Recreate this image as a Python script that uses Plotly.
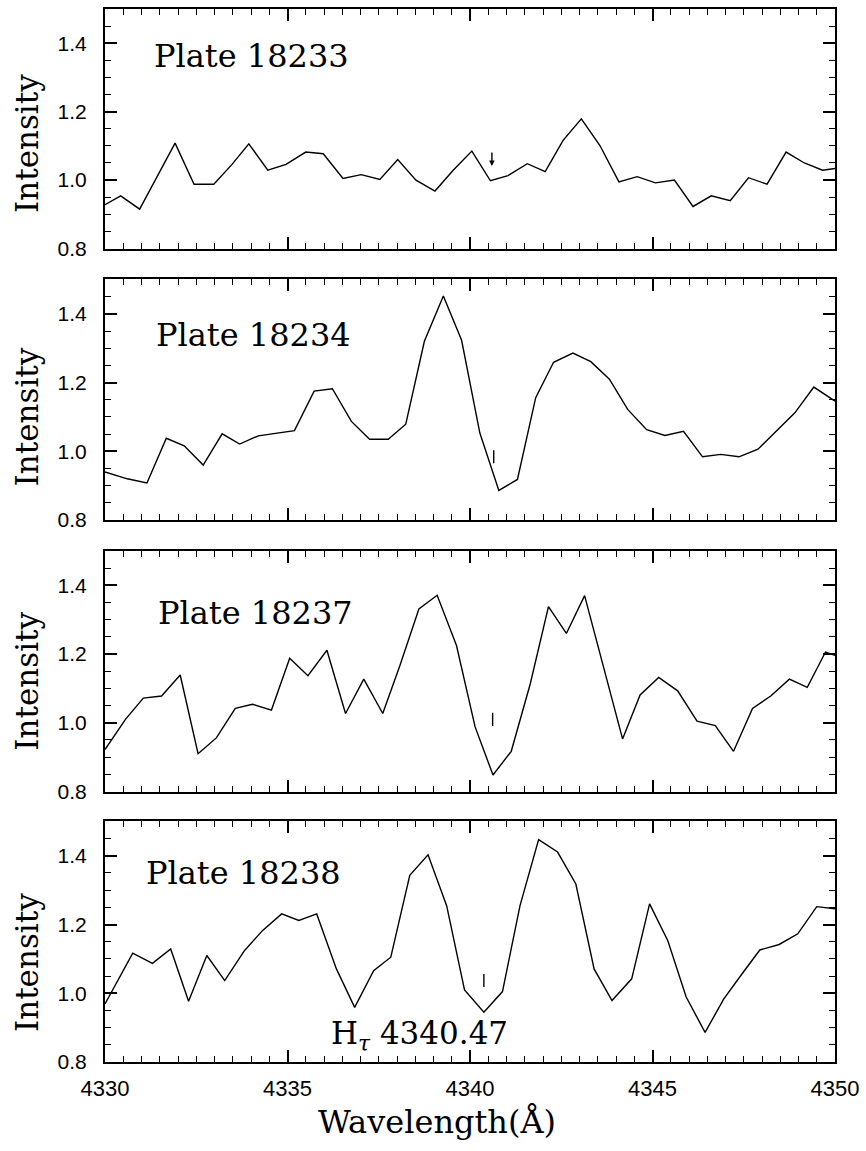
import plotly.graph_objects as go

# ---------------- data ----------------
plates = ["Plate 18233", "Plate 18234", "Plate 18237", "Plate 18238"]

wl1 = [4330.0, 4330.43, 4330.95, 4331.37, 4331.92, 4332.44, 4332.98, 4333.48, 4333.94, 4334.46,
       4334.96, 4335.50, 4335.98, 4336.52, 4337.02, 4337.53, 4338.02, 4338.52, 4339.04, 4339.54,
       4340.05, 4340.56, 4341.04, 4341.57, 4342.06, 4342.55, 4343.05, 4343.56, 4344.08, 4344.58,
       4345.08, 4345.60, 4346.11, 4346.61, 4347.13, 4347.63, 4348.14, 4348.66, 4349.16, 4349.66, 4350.0]
int1 = [0.928, 0.954, 0.915, 1.0, 1.108, 0.988, 0.988, 1.046, 1.106, 1.029,
        1.046, 1.082, 1.077, 1.005, 1.016, 1.002, 1.06, 1.0, 0.968, 1.029,
        1.085, 0.998, 1.013, 1.048, 1.025, 1.116, 1.179, 1.101, 0.995, 1.01,
        0.992, 1.0, 0.923, 0.954, 0.94, 1.007, 0.988, 1.082, 1.05, 1.029, 1.034]

wl2 = [4330.0, 4330.61, 4331.15, 4331.68, 4332.17, 4332.69, 4333.21, 4333.69, 4334.20, 4334.73,
       4335.19, 4335.73, 4336.23, 4336.75, 4337.25, 4337.76, 4338.24, 4338.75, 4339.27, 4339.77,
       4340.27, 4340.79, 4341.30, 4341.80, 4342.29, 4342.82, 4343.31, 4343.82, 4344.32, 4344.84,
       4345.34, 4345.85, 4346.37, 4346.87, 4347.37, 4347.89, 4348.40, 4348.90, 4349.42, 4350.0]
int2 = [0.94, 0.92, 0.908, 1.038, 1.016, 0.96, 1.051, 1.021, 1.045, 1.053,
        1.06, 1.175, 1.182, 1.087, 1.035, 1.035, 1.079, 1.32, 1.452, 1.323,
        1.053, 0.886, 0.918, 1.156, 1.259, 1.286, 1.261, 1.21, 1.122, 1.063,
        1.046, 1.058, 0.984, 0.991, 0.984, 1.006, 1.06, 1.112, 1.187, 1.146]

wl3 = [4330.0, 4330.56, 4331.05, 4331.55, 4332.06, 4332.55, 4333.05, 4333.57, 4334.04, 4334.56,
       4335.06, 4335.56, 4336.08, 4336.59, 4337.09, 4337.61, 4338.08, 4338.60, 4339.10, 4339.63,
       4340.14, 4340.63, 4341.13, 4341.65, 4342.15, 4342.64, 4343.14, 4343.67, 4344.18, 4344.66,
       4345.17, 4345.69, 4346.22, 4346.72, 4347.22, 4347.74, 4348.24, 4348.75, 4349.24, 4349.74, 4350.0]
int3 = [0.922, 1.01, 1.072, 1.078, 1.139, 0.91, 0.956, 1.042, 1.054, 1.037,
        1.188, 1.137, 1.211, 1.027, 1.127, 1.027, 1.167, 1.331, 1.371, 1.225,
        0.988, 0.848, 0.917, 1.113, 1.338, 1.26, 1.37, 1.157, 0.953, 1.081,
        1.132, 1.093, 1.005, 0.992, 0.917, 1.042, 1.078, 1.127, 1.103, 1.206, 1.196]

wl4 = [4330.0, 4330.76, 4331.30, 4331.80, 4332.29, 4332.79, 4333.28, 4333.82, 4334.32, 4334.84,
       4335.31, 4335.80, 4336.34, 4336.84, 4337.36, 4337.83, 4338.35, 4338.85, 4339.36, 4339.85,
       4340.38, 4340.89, 4341.37, 4341.88, 4342.40, 4342.90, 4343.40, 4343.89, 4344.43, 4344.92,
       4345.42, 4345.92, 4346.44, 4346.95, 4347.45, 4347.94, 4348.47, 4348.98, 4349.50, 4350.0]
int4 = [0.969, 1.117, 1.087, 1.129, 0.977, 1.11, 1.037, 1.124, 1.183, 1.231,
        1.212, 1.231, 1.071, 0.959, 1.066, 1.105, 1.343, 1.403, 1.255, 1.01,
        0.945, 1.005, 1.255, 1.447, 1.411, 1.318, 1.071, 0.979, 1.042, 1.26,
        1.153, 0.99, 0.886, 0.983, 1.056, 1.126, 1.142, 1.173, 1.252, 1.246]

# small line markers (H-gamma position) per panel
mark_x = [4340.6, 4340.65, 4340.62, 4340.38]
mark_top = [1.085, 1.003, 1.029, 1.056]
mark_bottom = [1.041, 0.965, 0.991, 1.018]
mark_head = [True, False, False, False]

line_label = "H<sub><i>τ</i></sub> 4340.47"
line_label_x = 4336.15
line_label_y = 0.876

x_ticks = [4330, 4335, 4340, 4345, 4350]
y_ticks = [0.8, 1.0, 1.2, 1.4]

wls = [wl1, wl2, wl3, wl4]
ints = [int1, int2, int3, int4]

# ---------------- layout geometry ----------------
W, H = 866, 1151
ml, mr, mt, mb = 105, 31, 7, 89
plot_h = H - mt - mb
panel_px = [(7, 247), (278, 519), (550, 791), (821, 1062)]  # top/bottom in pixels
domains = []
for top, bot in panel_px:
    domains.append([(H - mb - bot) / plot_h, (H - mb - top) / plot_h])

label_text_y = [0.44, 0.43, 0.46, 0.415]
plate_label_x = [4331.29, 4331.34, 4331.40, 4331.07]
plate_label_y = [1.362, 1.338, 1.320, 1.350]

serif = "DejaVu Serif"
sans = "Liberation Sans"

fig = go.Figure()
for i in range(4):
    sfx = "" if i == 0 else str(i + 1)
    fig.add_trace(go.Scatter(
        x=wls[i], y=ints[i], mode="lines",
        line=dict(color="black", width=1.4),
        xaxis="x" + sfx, yaxis="y" + sfx, showlegend=False, hoverinfo="skip"))
    if mark_head[i]:
        fig.add_annotation(
            x=mark_x[i], y=mark_bottom[i], ax=mark_x[i], ay=mark_top[i],
            xref="x" + sfx, yref="y" + sfx, axref="x" + sfx, ayref="y" + sfx,
            text="", showarrow=True, arrowhead=2, arrowsize=0.8,
            arrowwidth=1.4, arrowcolor="black")
    else:
        fig.add_trace(go.Scatter(
            x=[mark_x[i], mark_x[i]], y=[mark_top[i], mark_bottom[i]], mode="lines",
            line=dict(color="black", width=1.4),
            xaxis="x" + sfx, yaxis="y" + sfx, showlegend=False, hoverinfo="skip"))

    xa = dict(
        domain=[0, 1], range=[4330, 4350], anchor="y" + sfx,
        showline=True, linewidth=2, linecolor="black", mirror="ticks",
        ticks="inside", ticklen=12, tickwidth=1.5, tickcolor="black",
        tickvals=x_ticks, showgrid=False, zeroline=False,
        minor=dict(dtick=0.5, tick0=4330, ticks="inside", ticklen=6,
                   tickwidth=1.2, tickcolor="black", showgrid=False),
        showticklabels=(i == 3),
        tickfont=dict(family=sans, size=22, color="black"),
        ticklabelstandoff=6,
    )
    ya = dict(
        domain=domains[i], range=[0.8, 1.5], anchor="x" + sfx,
        showline=True, linewidth=2, linecolor="black", mirror="ticks",
        ticks="inside", ticklen=12, tickwidth=1.5, tickcolor="black",
        tickvals=y_ticks, tickformat=".1f", showgrid=False, zeroline=False,
        minor=dict(dtick=0.05, tick0=0.8, ticks="inside", ticklen=6,
                   tickwidth=1.2, tickcolor="black", showgrid=False),
        tickfont=dict(family=sans, size=21, color="black"),
        ticklabelstandoff=12,
    )
    fig.layout["xaxis" + sfx] = xa
    fig.layout["yaxis" + sfx] = ya

    fig.add_annotation(
        x=plate_label_x[i], y=plate_label_y[i], xref="x" + sfx, yref="y" + sfx,
        text=plates[i], showarrow=False, xanchor="left", yanchor="middle",
        font=dict(family=serif, size=32, color="black"))
    fig.add_annotation(
        x=-0.107, y=label_text_y[i], xref="paper", yref="y" + sfx + " domain",
        text="Intensity", textangle=-90, showarrow=False,
        xanchor="center", yanchor="middle",
        font=dict(family=serif, size=31, color="black"))

fig.add_annotation(
    x=line_label_x, y=line_label_y, xref="x4", yref="y4",
    text=line_label, showarrow=False, xanchor="left", yanchor="middle",
    font=dict(family=serif, size=31, color="black"))

fig.add_annotation(
    x=0.455, y=-0.057, xref="paper", yref="paper",
    text="Wavelength(Å)", showarrow=False, xanchor="center", yanchor="middle",
    font=dict(family=serif, size=32, color="black"))

fig.update_layout(
    width=W, height=H,
    margin=dict(l=ml, r=mr, t=mt, b=mb),
    paper_bgcolor="white", plot_bgcolor="white",
    showlegend=False,
)

fig.write_html("out.html")
